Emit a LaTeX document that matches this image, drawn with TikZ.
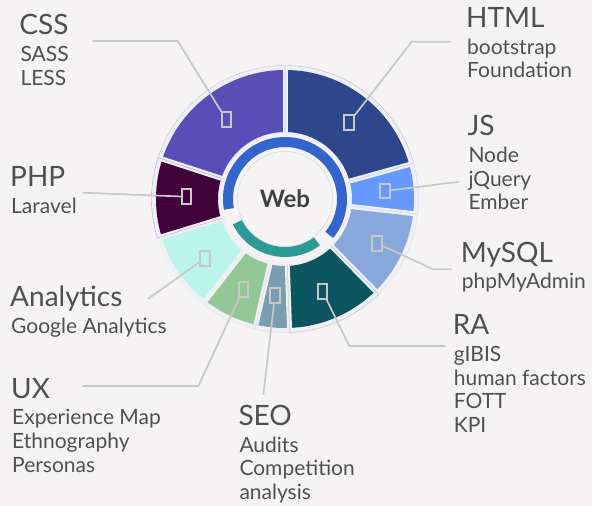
\documentclass[tikz,border=0pt]{standalone}
\usepackage{fontspec}
\setmainfont{Lato}

\definecolor{fond}{HTML}{F5F3F4}
\definecolor{halofond}{HTML}{EFEFF5}
\definecolor{gris}{HTML}{C8C8C8}
\definecolor{texte}{HTML}{505050}
\definecolor{cCSS}{HTML}{5B4DB7}
\definecolor{cHTML}{HTML}{2E468C}
\definecolor{cJS}{HTML}{6699FF}
\definecolor{cSQL}{HTML}{88A8DC}
\definecolor{cRA}{HTML}{0B5560}
\definecolor{cSEO}{HTML}{7A9EB0}
\definecolor{cUX}{HTML}{93C795}
\definecolor{cANA}{HTML}{BAF5EB}
\definecolor{cPHP}{HTML}{40003A}
\definecolor{anneau}{HTML}{3366CC}
\definecolor{sarcelle}{HTML}{2E9A96}

% secteur d'anneau : debut, fin, rayon int, rayon ext, style
\newcommand{\secteur}[5]{
    \path[#5] (#1:#3) arc[start angle=#1, end angle=#2, radius=#3]
        -- (#2:#4) arc[start angle=#2, end angle=#1, radius=#4] -- cycle;
}
% etiquette : nom, x, y, titre, lignes
\newcommand{\etiquette}[5]{
    \node[titre] (#1) at (#2,#3) {#4};
    \foreach \t [count=\i] in {#5}
        \node[sous] (#1-\i) at ({#2+1},{#3-2.8-\i*23.7}) {\t};
}

\tikzset{
    titre/.style={anchor=base west, inner sep=0pt, text=texte, font=\fontsize{28}{30}\selectfont},
    sous/.style={anchor=base west, inner sep=0pt, text=texte, font=\fontsize{21}{23}\selectfont},
    repere/.style={draw=gris, line width=2pt, minimum width=9.5pt, minimum height=14.5pt, inner sep=0pt},
    trait/.style={draw=gris, line width=1.7pt},
}

\begin{document}
\begin{tikzpicture}[x=1pt,y=1pt]
    % fond
    \path[use as bounding box, fill=fond] (0,0) rectangle (592,506);

    \begin{scope}[shift={(285,307)}]
        % halos
        \foreach \de/\a/\col in {90/15.5/cHTML, 15.5/-6.5/cJS, -6.5/-45.5/cSQL, -45.5/-88/cRA,
                -88/-103/cSEO, -103/-128/cUX, -128/-163/cANA, -163/-198/cPHP, 162/90/cCSS}
            \secteur{\de}{\a}{64pt}{133.5pt}{fill=halofond};

        % secteurs
        \foreach \de/\a/\col in {90/15.5/cHTML, 15.5/-6.5/cJS, -6.5/-45.5/cSQL, -45.5/-88/cRA,
                -88/-103/cSEO, -103/-128/cUX, -128/-163/cANA, -163/-198/cPHP, 162/90/cCSS}
            \secteur{\de}{\a}{67pt}{129pt}{fill=\col};

        % espaces
        \foreach \g in {90,15.5,-6.5,-45.5,-88,-103,-128,-163,162}
            \draw[halofond, line width=5pt] (\g:63pt) -- (\g:133.5pt);

        % contours des halos
        \foreach \de/\a/\col in {90/15.5/cHTML, 15.5/-6.5/cJS, -6.5/-45.5/cSQL, -45.5/-88/cRA,
                -88/-103/cSEO, -103/-128/cUX, -128/-163/cANA, -163/-198/cPHP, 162/90/cCSS}
            \draw[\col!35, line width=0.4pt] (\de:66pt) -- (\de:133.5pt)
                arc[start angle=\de, end angle=\a, radius=133.5pt] -- (\a:66pt);

        % anneaux
        \secteur{-39}{190}{52pt}{62pt}{fill=anneau}
        \secteur{-154}{-53}{48pt}{58pt}{fill=sarcelle}
        \draw[anneau!30, line width=0.4pt] (0,0) circle[radius=47.5pt];

        \node[text=texte!80!black, font=\bfseries\fontsize{24}{26}\selectfont] (web) at (0,0) {Web};
    \end{scope}

    % reperes
    \node[repere] (css-m) at (226.3,386.3) {};
    \node[repere] (html-m) at (349,383.3) {};
    \node[repere] (js-m) at (385,315) {};
    \node[repere] (sql-m) at (377,262.7) {};
    \node[repere] (ra-m) at (322.7,214.3) {};
    \node[repere] (seo-m) at (275,210.3) {};
    \node[repere] (ux-m) at (243.3,216.7) {};
    \node[repere] (ana-m) at (205,247.7) {};
    \node[repere] (php-m) at (186.7,309.3) {};

    % coudes et bouts
    \coordinate (css-c) at (177.7,465);   \coordinate (css-f) at (92.3,465);
    \coordinate (html-c) at (411.7,464.3); \coordinate (html-f) at (450.7,464.3);
    \coordinate (js-f) at (459.3,324.3);
    \coordinate (sql-c) at (433.3,236.7); \coordinate (sql-f) at (451.7,236.7);
    \coordinate (ra-c) at (349.3,160);    \coordinate (ra-f) at (445,160);
    \coordinate (seo-f) at (263.3,111);
    \coordinate (ux-c) at (198.3,120);    \coordinate (ux-f) at (82.7,120);
    \coordinate (ana-f) at (147.7,207);
    \coordinate (php-f) at (82.7,313.3);

    % traits
    \draw[trait] (css-m) -- (css-c) -- (css-f);
    \draw[trait] (html-m) -- (html-c) -- (html-f);
    \draw[trait] (js-m) -- (js-f);
    \draw[trait] (sql-m) -- (sql-c) -- (sql-f);
    \draw[trait] (ra-m) -- (ra-c) -- (ra-f);
    \draw[trait] (seo-m) -- (seo-f);
    \draw[trait] (ux-m) -- (ux-c) -- (ux-f);
    \draw[trait] (ana-m) -- (ana-f);
    \draw[trait] (php-m) -- (php-f);

    % textes
    \etiquette{css}{19.3}{471}{CSS}{SASS,LESS}
    \etiquette{html}{466}{478.3}{HTML}{bootstrap,Foundation}
    \etiquette{js}{467.3}{370}{JS}{Node,jQuery,Ember}
    \etiquette{sql}{460.7}{243.7}{MySQL}{phpMyAdmin}
    \etiquette{ra}{452.7}{171}{RA}{gIBIS,human factors,FOTT,KPI}
    \etiquette{seo}{238.3}{80.3}{SEO}{Audits,Competition,analysis}
    \etiquette{ux}{11}{107.7}{UX}{Experience Map,Ethnography,Personas}
    \etiquette{ana}{10}{199.3}{Analytics}{Google Analytics}
    \etiquette{php}{10}{319.3}{PHP}{Laravel}
\end{tikzpicture}
\end{document}
